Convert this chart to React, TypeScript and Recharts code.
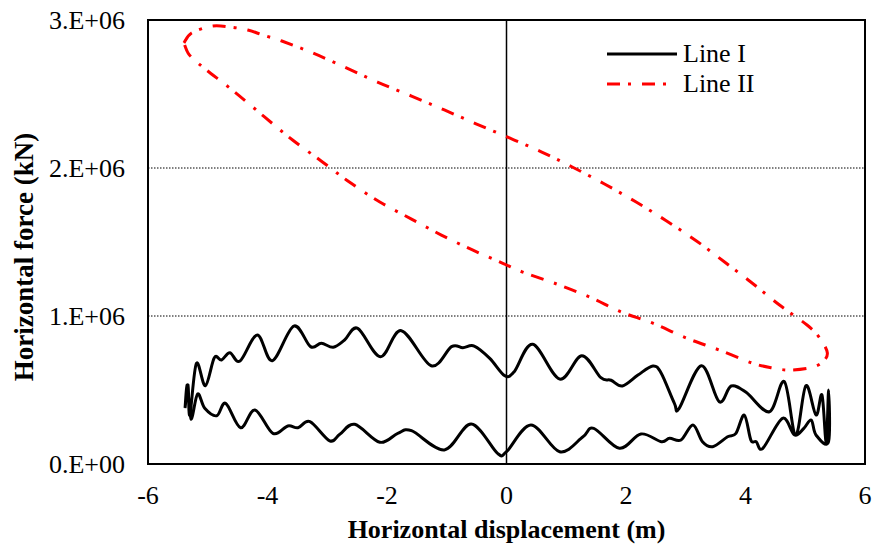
import React from "react";
import {
  LineChart,
  Line,
  XAxis,
  YAxis,
  CartesianGrid,
  ReferenceLine,
  ReferenceArea,
  Legend,
} from "recharts";

const FONT = '"Liberation Serif", "Times New Roman", serif';

// Line I : displacement (m) / force (kN)
const lineIX = [
  -5.38, -5.33, -5.3, -5.19, -5.04, -4.89, -4.77, -4.63, -4.46, -4.17, -3.92, -3.56, -3.28, -3.1, -2.9, -2.71,
  -2.49, -2.11, -1.76, -1.26, -0.92, -0.73, -0.54, -0.28, -0.03, 0.13, 0.44, 0.89, 1.26, 1.58, 1.75, 1.94, 2.2,
  2.45, 2.59, 2.81, 2.89, 3.26, 3.56, 3.76, 4.01, 4.4, 4.65, 4.84, 5.01, 5.18, 5.28, 5.35, 5.39, 5.39,
  5.18, 5.1, 4.98, 4.82, 4.62, 4.29, 4.18, 4.09, 3.98, 3.84, 3.7, 3.45, 3.28, 3.12, 2.92, 2.73, 2.59, 2.25,
  1.89, 1.46, 1.28, 0.89, 0.41, 0.0, -0.15, -0.59, -1.04, -1.59, -1.82, -2.12, -2.54, -2.79, -2.96, -3.29,
  -3.49, -3.66, -3.91, -4.21, -4.45, -4.7, -4.85, -5.05, -5.17, -5.28, -5.34, -5.38,
];
const lineIY = [
  378000, 534000, 331000, 680000, 529000, 718000, 703000, 752000, 696000, 872000, 698000, 932000, 793000, 816000,
  789000, 838000, 917000, 725000, 901000, 664000, 793000, 786000, 797000, 714000, 597000, 624000, 809000, 574000,
  732000, 583000, 566000, 527000, 601000, 662000, 613000, 410000, 376000, 664000, 421000, 527000, 484000, 353000,
  556000, 196000, 529000, 331000, 466000, 151000, 500000, 151000,
  196000, 297000, 243000, 196000, 309000, 106000, 151000, 162000, 331000, 207000, 184000, 117000, 151000, 264000,
  162000, 174000, 151000, 203000, 106000, 241000, 184000, 83000, 264000, 83000, 72000, 270000, 95000, 225000,
  207000, 147000, 268000, 201000, 157000, 286000, 245000, 257000, 207000, 365000, 245000, 410000, 326000, 376000,
  473000, 304000, 534000, 378000,
];

// Line II
const lineIIX = [
  -5.4, -5.27, -4.93, -4.63, -4.33, -4.08, -3.76, -3.24, -2.68, -2.16, -1.59, -1.04, -0.5, 0.05, 0.59, 1.1, 1.64,
  2.17, 2.68, 3.18, 3.65, 4.11, 4.57, 5.03, 5.23, 5.37, 5.27, 5.07, 4.73, 4.45, 4.11, 3.56, 3.01, 2.44, 1.92,
  1.39, 0.84, 0.27, -0.07, -0.57, -1.09, -1.59, -2.12, -2.63, -3.08, -3.58, -4.05, -4.55, -5.02, -5.22, -5.33,
  -5.4,
];
const lineIIY = [
  2845000, 2912000, 2959000, 2953000, 2932000, 2899000, 2858000, 2777000, 2676000, 2581000, 2486000, 2392000,
  2297000, 2203000, 2108000, 2007000, 1892000, 1770000, 1642000, 1507000, 1365000, 1223000, 1074000, 939000,
  858000, 750000, 682000, 649000, 635000, 649000, 682000, 770000, 851000, 953000, 1027000, 1128000, 1216000,
  1297000, 1358000, 1446000, 1547000, 1655000, 1770000, 1905000, 2041000, 2189000, 2345000, 2514000, 2662000,
  2730000, 2777000, 2845000,
];

const xTicks = [-6, -4, -2, 0, 2, 4, 6];
const yTicks = [0, 1000000, 2000000, 3000000];
const yTickLabels = ["0.E+00", "1.E+06", "2.E+06", "3.E+06"];

const lineIData = lineIX.map((x, i) => ({ x, y: lineIY[i] }));
const lineIIData = lineIIX.map((x, i) => ({ x, y: lineIIY[i] }));

// Excel-like smoothed line (Catmull-Rom through the points)
function smoothCurve(context: any) {
  let pts: number[][] = [];
  return {
    areaStart() {},
    areaEnd() {},
    lineStart() {
      pts = [];
    },
    point(x: number, y: number) {
      pts.push([+x, +y]);
    },
    lineEnd() {
      if (!pts.length) return;
      context.moveTo(pts[0][0], pts[0][1]);
      const t = 1 / 6;
      for (let i = 0; i < pts.length - 1; i++) {
        const p0 = pts[Math.max(i - 1, 0)];
        const p1 = pts[i];
        const p2 = pts[i + 1];
        const p3 = pts[Math.min(i + 2, pts.length - 1)];
        context.bezierCurveTo(
          p1[0] + (p2[0] - p0[0]) * t,
          p1[1] + (p2[1] - p0[1]) * t,
          p2[0] - (p3[0] - p1[0]) * t,
          p2[1] - (p3[1] - p1[1]) * t,
          p2[0],
          p2[1]
        );
      }
    },
  };
}

function LegendBox({ payload }: any) {
  return (
    <div style={{ fontFamily: FONT, fontSize: 26, color: "#000" }}>
      {payload?.map((entry: any, i: number) => (
        <div key={i} style={{ display: "flex", alignItems: "center", height: 30 }}>
          <svg width={76} height={30} style={{ display: "block" }}>
            <line
              x1={0}
              x2={entry.payload.strokeDasharray ? 60 : 70}
              y1={15}
              y2={15}
              stroke={entry.color}
              strokeWidth={3}
              strokeDasharray={entry.payload.strokeDasharray}
            />
          </svg>
          <span style={{ lineHeight: "30px" }}>{entry.value}</span>
        </div>
      ))}
    </div>
  );
}

function YTitle() {
  return (
    <text
      x={24}
      y={257}
      transform="rotate(-90 24 257)"
      textAnchor="middle"
      dominantBaseline="central"
      fontFamily={FONT}
      fontWeight="bold"
      fontSize={27}
      fill="#000"
    >
      Horizontal force (kN)
    </text>
  );
}

function XTitle({ viewBox }: any) {
  const cx = viewBox ? viewBox.x + viewBox.width / 2 : 507;
  return (
    <text x={cx} y={538} textAnchor="middle" fontFamily={FONT} fontWeight="bold" fontSize={26} fill="#000">
      Horizontal displacement (m)
    </text>
  );
}

export default function App() {
  return (
    <div style={{ position: "absolute", left: 0, top: 0, width: 873, height: 547, background: "#fff" }}>
      <LineChart width={873} height={547} margin={{ top: 20, right: 8, bottom: 0, left: 0 }}>
        <CartesianGrid vertical={false} stroke="#000" strokeDasharray="1.5 1.5" strokeWidth={1} />
        <XAxis
          type="number"
          dataKey="x"
          domain={[-6, 6]}
          ticks={xTicks}
          allowDataOverflow
          height={83}
          axisLine={false}
          tickLine={false}
          tickSize={0}
          tickMargin={22}
          tick={{ fontFamily: FONT, fontSize: 26, fill: "#000" }}
          label={<XTitle />}
        />
        <YAxis
          type="number"
          dataKey="y"
          domain={[0, 3000000]}
          ticks={yTicks}
          allowDataOverflow
          width={148}
          axisLine={false}
          tickLine={false}
          tickSize={0}
          tickMargin={23}
          tickFormatter={(v: number) => yTickLabels[yTicks.indexOf(v)] ?? String(v)}
          tick={{ fontFamily: FONT, fontSize: 26, fill: "#000" }}
          label={<YTitle />}
        />
        <ReferenceArea x1={-6} x2={6} y1={0} y2={3000000} fill="none" fillOpacity={0} stroke="#000" strokeWidth={2} />
        <ReferenceLine x={0} stroke="#000" strokeWidth={1.5} />
        <Line
          data={lineIData}
          dataKey="y"
          name="Line I"
          type={smoothCurve as any}
          stroke="#000"
          strokeWidth={3}
          dot={false}
          activeDot={false}
          isAnimationActive={false}
        />
        <Line
          data={lineIIData}
          dataKey="y"
          name="Line II"
          type={smoothCurve as any}
          stroke="#FF0000"
          strokeWidth={3}
          strokeDasharray="13 8 3 11"
          dot={false}
          activeDot={false}
          isAnimationActive={false}
        />
        <Legend
          layout="vertical"
          verticalAlign="middle"
          align="center"
          content={<LegendBox />}
          wrapperStyle={{ position: "absolute", left: 607, top: 39, width: 200 }}
        />
      </LineChart>
    </div>
  );
}
